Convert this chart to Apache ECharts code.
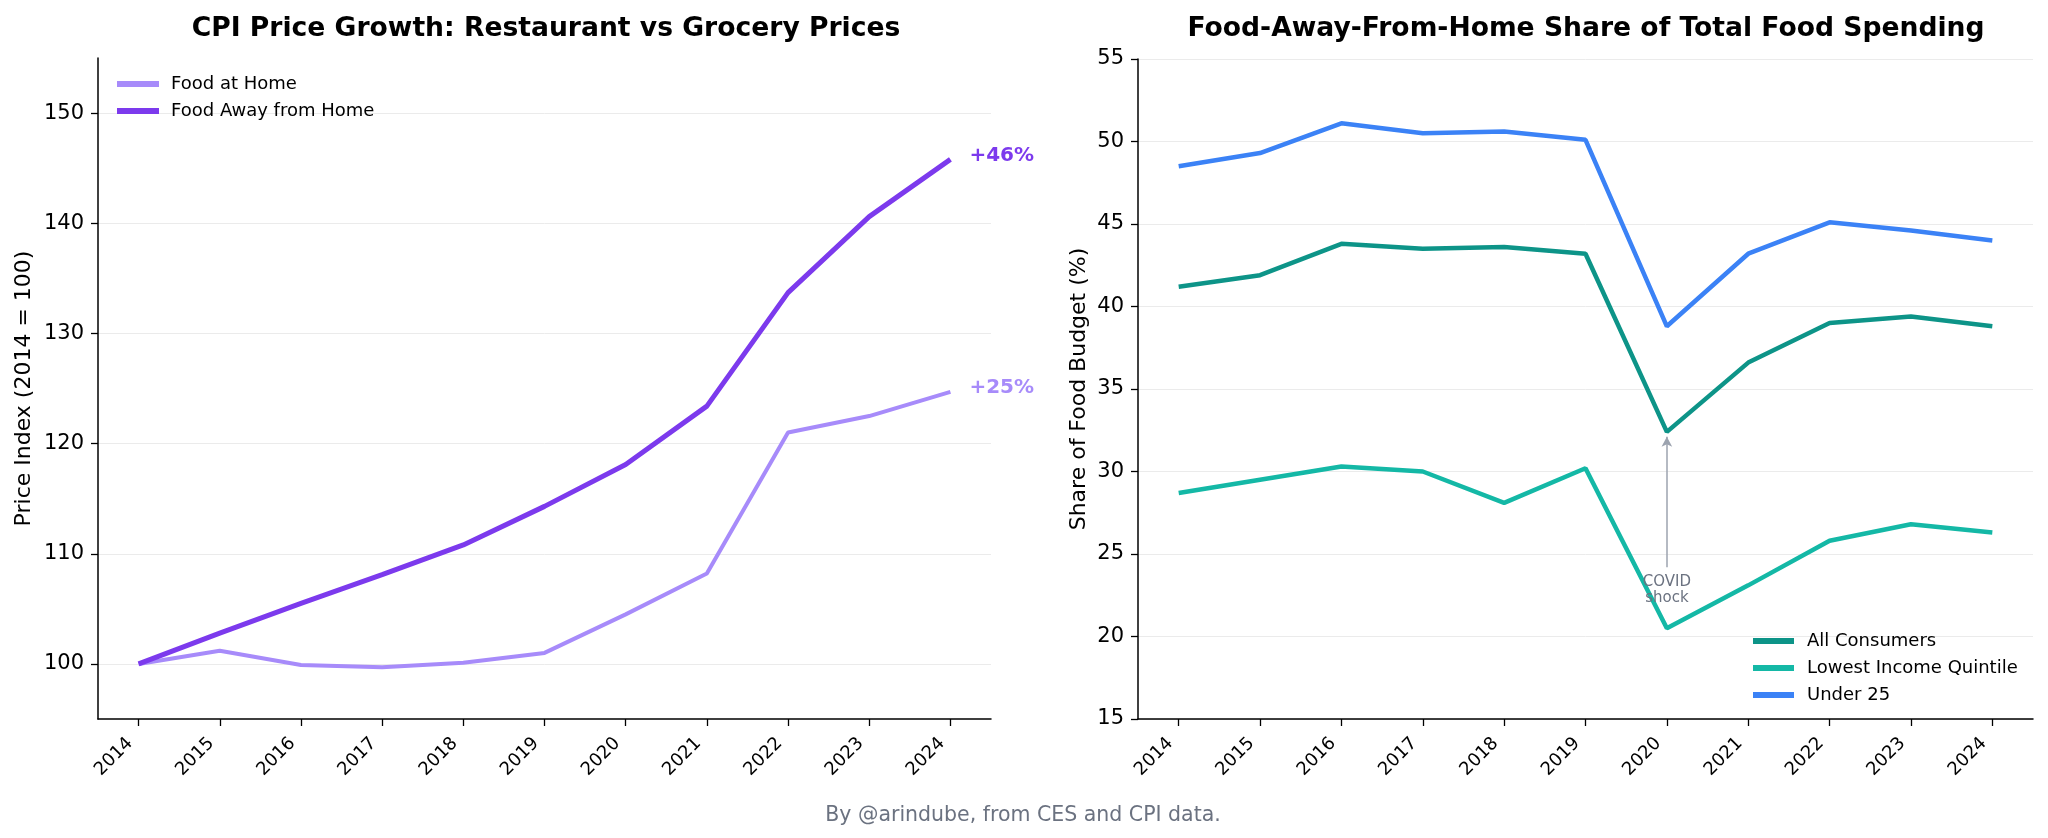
<!DOCTYPE html>
<html>
<head>
<meta charset="utf-8">
<script src="https://cdn.jsdelivr.net/npm/echarts@6/dist/echarts.min.js"></script>
<style>
html,body{margin:0;padding:0;background:#fff;}
#chart{width:2048px;height:838px;}
</style>
</head>
<body>
<div id="chart"></div>
<script>
// ---- Data ----
const years = ['2014','2015','2016','2017','2018','2019','2020','2021','2022','2023','2024'];
const foodAtHome = [100, 101.2, 99.9, 99.7, 100.1, 101.0, 104.5, 108.2, 121.0, 122.5, 124.7];
const foodAwayFromHome = [100, 102.8, 105.5, 108.1, 110.8, 114.3, 118.1, 123.4, 133.7, 140.6, 145.8];
const allConsumers = [41.2, 41.9, 43.8, 43.5, 43.6, 43.2, 32.4, 36.6, 39.0, 39.4, 38.8];
const lowestIncomeQuintile = [28.7, 29.5, 30.3, 30.0, 28.1, 30.2, 20.5, 23.1, 25.8, 26.8, 26.3];
const under25 = [48.5, 49.3, 51.1, 50.5, 50.6, 50.1, 38.8, 43.2, 45.1, 44.6, 44.0];
const priceTicks = [100, 110, 120, 130, 140, 150];
const covidNote = { year: '2020', arrowFrom: 24.2, arrowTo: 32.1, textAt: 22.8, text: 'COVID\nshock' };

const FONT = 'DejaVu Sans';
const pct = arr => '+' + Math.round((arr[arr.length - 1] / arr[0] - 1) * 100) + '%';

function xAxis(gi) {
  return {
    type: 'category', gridIndex: gi, data: years, boundaryGap: true,
    axisLine: { show: true, lineStyle: { color: '#000', width: 1.5 } },
    axisTick: { show: true, alignWithLabel: true, interval: 0, length: 7, lineStyle: { color: '#000', width: 1.3 } },
    axisLabel: { interval: 0, rotate: 45, fontSize: 18, fontFamily: FONT, color: '#000', margin: 13, padding: [0, 12, 0, 0] },
    splitLine: { show: false }
  };
}

const chart = echarts.init(document.getElementById('chart'), null, { renderer: 'canvas' });
chart.setOption({
  animation: false,
  backgroundColor: '#fff',
  textStyle: { fontFamily: FONT },
  title: [
    { text: 'CPI Price Growth: Restaurant vs Grocery Prices', left: 541, top: 11, textAlign: 'center',
      textStyle: { fontFamily: FONT, fontSize: 26.6, fontWeight: 'bold', color: '#000' } },
    { text: 'Food-Away-From-Home Share of Total Food Spending', left: 1581, top: 11, textAlign: 'center',
      textStyle: { fontFamily: FONT, fontSize: 26.6, fontWeight: 'bold', color: '#000' } },
    { text: 'By @arindube, from CES and CPI data.', left: 1018, top: 800, textAlign: 'center',
      textStyle: { fontFamily: FONT, fontSize: 20.5, fontWeight: 'normal', color: '#6b7280' } }
  ],
  grid: [
    { left: 98, top: 58, width: 893, height: 661 },
    { left: 1138, top: 59, width: 895, height: 660 }
  ],
  legend: [
    { orient: 'vertical', left: 112, top: 70, icon: 'rect', itemWidth: 42, itemHeight: 6, itemGap: 9,
      data: ['Food at Home', 'Food Away from Home'],
      textStyle: { fontFamily: FONT, fontSize: 18, lineHeight: 18, color: '#000', padding: [0, 0, 0, 7] } },
    { orient: 'vertical', left: 1748, top: 627, icon: 'rect', itemWidth: 41, itemHeight: 6, itemGap: 9,
      data: ['All Consumers', 'Lowest Income Quintile', 'Under 25'],
      textStyle: { fontFamily: FONT, fontSize: 18, lineHeight: 18, color: '#000', padding: [0, 0, 0, 8] } }
  ],
  xAxis: [xAxis(0), xAxis(1)],
  yAxis: [
    { type: 'value', gridIndex: 0, min: 95, max: 155,
      name: 'Price Index (2014 = 100)', nameLocation: 'middle', nameGap: 63,
      nameTextStyle: { fontFamily: FONT, fontSize: 22, color: '#000' },
      axisLine: { show: true, lineStyle: { color: '#000', width: 1.5 } },
      axisTick: { show: true, length: 7, customValues: priceTicks, lineStyle: { color: '#000', width: 1.3 } },
      axisLabel: { customValues: priceTicks, fontSize: 21, fontFamily: FONT, color: '#000', margin: 14 },
      splitLine: { show: true, lineStyle: { color: '#ebebeb', width: 1 } } },
    { type: 'value', gridIndex: 1, min: 15, max: 55, interval: 5,
      name: 'Share of Food Budget (%)', nameLocation: 'middle', nameGap: 48,
      nameTextStyle: { fontFamily: FONT, fontSize: 22, color: '#000' },
      axisLine: { show: true, lineStyle: { color: '#000', width: 1.5 } },
      axisTick: { show: true, length: 7, lineStyle: { color: '#000', width: 1.3 } },
      axisLabel: { fontSize: 21, fontFamily: FONT, color: '#000', margin: 14 },
      splitLine: { show: true, lineStyle: { color: '#ebebeb', width: 1 } } }
  ],
  series: [
    { name: 'Food at Home', type: 'line', xAxisIndex: 0, yAxisIndex: 0, data: foodAtHome,
      showSymbol: false, symbol: 'none', color: '#a78bfa',
      lineStyle: { width: 4, color: '#a78bfa' },
      endLabel: { show: true, formatter: () => pct(foodAtHome), color: '#a78bfa', fontSize: 20, fontWeight: 'bold', fontFamily: FONT, distance: 19, offset: [0, -4] } },
    { name: 'Food Away from Home', type: 'line', xAxisIndex: 0, yAxisIndex: 0, data: foodAwayFromHome,
      showSymbol: false, symbol: 'none', color: '#7c3aed',
      lineStyle: { width: 5, color: '#7c3aed' },
      endLabel: { show: true, formatter: () => pct(foodAwayFromHome), color: '#7c3aed', fontSize: 20, fontWeight: 'bold', fontFamily: FONT, distance: 19, offset: [0, -4] } },
    { name: 'All Consumers', type: 'line', xAxisIndex: 1, yAxisIndex: 1, data: allConsumers,
      showSymbol: false, symbol: 'none', color: '#0d9488',
      lineStyle: { width: 4.5, color: '#0d9488' },
      markLine: { silent: true, animation: false, symbol: ['none', 'arrow'], symbolSize: [8, 10],
        lineStyle: { color: '#9ca3af', width: 1.5, type: 'solid' }, label: { show: false },
        data: [[{ coord: [covidNote.year, covidNote.arrowFrom] }, { coord: [covidNote.year, covidNote.arrowTo] }]] },
      markPoint: { silent: true, symbol: 'rect', symbolSize: 0,
        label: { show: true, position: 'inside', formatter: covidNote.text, color: '#6b7280', fontSize: 15, lineHeight: 16, fontFamily: FONT },
        data: [{ coord: [covidNote.year, covidNote.textAt] }] } },
    { name: 'Lowest Income Quintile', type: 'line', xAxisIndex: 1, yAxisIndex: 1, data: lowestIncomeQuintile,
      showSymbol: false, symbol: 'none', color: '#14b8a6',
      lineStyle: { width: 4.5, color: '#14b8a6' } },
    { name: 'Under 25', type: 'line', xAxisIndex: 1, yAxisIndex: 1, data: under25,
      showSymbol: false, symbol: 'none', color: '#3b82f6',
      lineStyle: { width: 4.5, color: '#3b82f6' } }
  ]
});
</script>
</body>
</html>
